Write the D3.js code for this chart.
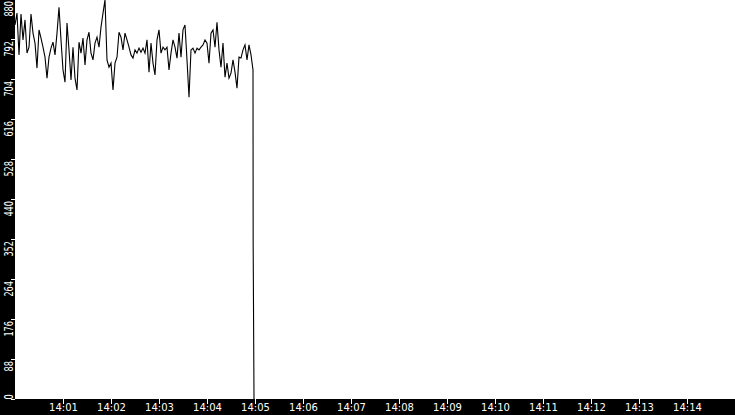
<!DOCTYPE html>
<html>
<head>
<meta charset="utf-8">
<script src="https://cdn.jsdelivr.net/npm/d3@7"></script>
<style>
  body { margin: 0; background: #fff; }
  svg { display: block; }
</style>
</head>
<body>
<div class="chart"></div>
<script>
// samples every 2.5 s starting 14:00:00
const startTime = "14:00:00.000"
const stepSeconds = 2.5
const values = [
  823, 849, 757, 847, 790, 834, 761, 774, 847, 805,
  783, 728, 812, 794, 774, 752, 706, 752, 772, 785,
  757, 805, 862, 790, 724, 697, 827, 768, 702, 774,
  706, 680, 785, 761, 794, 735, 790, 807, 761, 746,
  783, 796, 774, 818, 849, 878, 746, 730, 739, 680,
  739, 752, 807, 796, 768, 805, 790, 774, 757, 750,
  768, 761, 772, 763, 772, 761, 790, 719, 783, 739,
  713, 790, 812, 761, 774, 768, 774, 724, 761, 790,
  774, 750, 805, 752, 812, 823, 746, 664, 768, 772,
  761, 772, 768, 774, 779, 790, 783, 739, 805, 812,
  774, 829, 768, 730, 783, 708, 739, 706, 717, 746,
  719, 684, 752, 750, 768, 779, 746, 779, 757, 724
]
// the drop at the end
const dropTimes = ["14:04:57.700", "14:04:58.750"]
const dropValues = [343, 0]

const yTicks = [0, 88, 176, 264, 352, 440, 528, 616, 704, 792, 880]
const xTicks = ["14:01", "14:02", "14:03", "14:04", "14:05", "14:06", "14:07",
                "14:08", "14:09", "14:10", "14:11", "14:12", "14:13", "14:14"]
const domainStart = "14:00"
const domainEnd = "14:15"

function drawChart() {
    let width = 735,
        height = 415,
        left = 15,
        bottom = 399
    let parseT = d3.timeParse("%H:%M:%S.%L"),
        parseM = d3.timeParse("%H:%M")

    let t0 = parseT(startTime)
    let data = values.map((v, i) => ({t: new Date(+t0 + i * stepSeconds * 1000), v: v}))
    dropTimes.forEach((t, i) => data.push({t: parseT(t), v: dropValues[i]}))

    let x = d3.scaleTime()
        .domain([parseM(domainStart), parseM(domainEnd)])
        .range([left, width])
    let y = d3.scaleLinear()
        .domain([0, 880])
        .range([bottom, -1])

    let svg = d3.select(".chart")
        .append("svg")
        .attr("width", width)
        .attr("height", height)

    // black axis bands
    svg.append("rect").attr("x", 0).attr("y", 0).attr("width", left).attr("height", height).attr("fill", "#000")
    svg.append("rect").attr("x", 0).attr("y", bottom).attr("width", width).attr("height", height - bottom).attr("fill", "#000")

    let line = d3.line()
        .x(d => x(d.t))
        .y(d => y(d.v))

    svg.append("path")
        .datum(data)
        .attr("fill", "none")
        .attr("stroke", "#000")
        .attr("stroke-width", 1.1)
        .attr("d", line)

    // x axis
    let xAxis = svg.append("g")
        .attr("transform", `translate(0,${bottom})`)
        .call(d3.axisBottom(x)
            .tickValues(xTicks.map(parseM))
            .tickFormat(d3.timeFormat("%H:%M"))
            .tickSizeInner(5)
            .tickSizeOuter(0))
    xAxis.select(".domain").remove()
    xAxis.selectAll("line").attr("stroke", "#fff")
    xAxis.selectAll("text")
        .attr("y", 5)
        .attr("fill", "#fff")
        .attr("font-family", "DejaVu Sans")
        .attr("font-size", 10)

    // y axis, labels turned upright along the band
    let yAxis = svg.append("g")
        .attr("transform", `translate(${left},0)`)
        .call(d3.axisLeft(y)
            .tickValues(yTicks)
            .tickSizeInner(4)
            .tickSizeOuter(0))
    yAxis.select(".domain").remove()
    yAxis.selectAll("line").attr("stroke", "#fff").attr("shape-rendering", "crispEdges")
    yAxis.selectAll("text")
        .attr("x", null).attr("dy", null)
        .attr("fill", "#fff")
        .attr("font-family", "DejaVu Sans")
        .attr("font-size", 12.5)
        .attr("textLength", d => String(d).length * 5.2)
        .attr("lengthAdjust", "spacingAndGlyphs")
        .attr("text-anchor", d => d === 0 ? "start" : "end")
        .attr("transform", d => `translate(-2.5,${d === 0 ? 0 : 1.5}) rotate(-90)`)
}

drawChart()
</script>
</body>
</html>
